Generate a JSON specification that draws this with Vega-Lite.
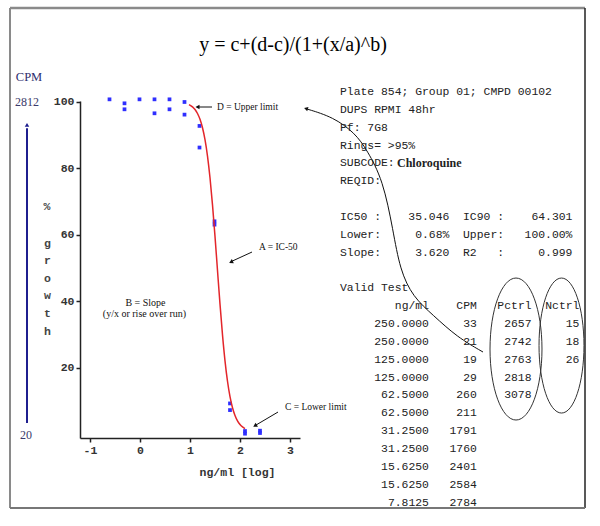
{
  "$schema": "https://vega.github.io/schema/vega-lite/v6.json",
  "width": 220,
  "height": 337,
  "autosize": "none",
  "padding": {"left": 80, "top": 101, "right": 300, "bottom": 88},
  "background": "white",
  "config": {"view": {"stroke": null}},
  "datasets": {
    "one": [{}],
    "growth": [
      {"x": -0.61, "y": 100.7}, {"x": -0.31, "y": 99.5}, {"x": -0.31, "y": 97.7},
      {"x": -0.01, "y": 100.7}, {"x": 0.29, "y": 100.7}, {"x": 0.29, "y": 96.5},
      {"x": 0.59, "y": 100.7}, {"x": 0.59, "y": 97.7}, {"x": 0.89, "y": 99.9},
      {"x": 0.89, "y": 96.1}, {"x": 1.19, "y": 92.7}, {"x": 1.19, "y": 86.2},
      {"x": 1.49, "y": 64.0}, {"x": 1.49, "y": 63.0}, {"x": 1.8, "y": 9.2},
      {"x": 1.8, "y": 7.2}, {"x": 2.1, "y": 0.9}, {"x": 2.1, "y": 0.1},
      {"x": 2.4, "y": 1.0}, {"x": 2.4, "y": 0.3}
    ],
    "fit": [
      {"x": 0.98, "y": 99.11}, {"x": 1.05, "y": 98.42}, {"x": 1.1, "y": 97.62},
      {"x": 1.15, "y": 96.43}, {"x": 1.2, "y": 94.68}, {"x": 1.25, "y": 92.15},
      {"x": 1.3, "y": 88.56}, {"x": 1.35, "y": 83.62}, {"x": 1.4, "y": 77.1},
      {"x": 1.45, "y": 68.96}, {"x": 1.5, "y": 59.47}, {"x": 1.55, "y": 49.22},
      {"x": 1.6, "y": 39.08}, {"x": 1.65, "y": 29.83}, {"x": 1.7, "y": 22.03},
      {"x": 1.75, "y": 15.87}, {"x": 1.8, "y": 11.24}, {"x": 1.85, "y": 7.9},
      {"x": 1.9, "y": 5.56}, {"x": 1.95, "y": 3.95}, {"x": 2.0, "y": 2.86},
      {"x": 2.05, "y": 2.13}, {"x": 2.1, "y": 1.64}
    ],
    "connector": [
      {"x": 3.34, "y": 97.79}, {"x": 3.86, "y": 95.39}, {"x": 4.3, "y": 90.57},
      {"x": 4.54, "y": 85.45}, {"x": 4.86, "y": 76.43}, {"x": 5.06, "y": 61.38},
      {"x": 5.2, "y": 49.34}, {"x": 5.46, "y": 41.22}, {"x": 5.86, "y": 35.8},
      {"x": 6.34, "y": 29.18}, {"x": 6.86, "y": 24.67}
    ],
    "info": [
      {"i": -12, "line": "Plate 854; Group 01; CMPD 00102"},
      {"i": -11, "line": "DUPS RPMI 48hr"},
      {"i": -10, "line": "Pf: 7G8"},
      {"i": -9, "line": "Rings= >95%"},
      {"i": -8, "line": "SUBCODE:"},
      {"i": -7, "line": "REQID:"},
      {"i": -5, "line": "IC50\u00a0:\u00a0\u00a0\u00a0\u00a035.046\u00a0\u00a0IC90\u00a0:\u00a0\u00a0\u00a0\u00a064.301"},
      {"i": -4, "line": "Lower:\u00a0\u00a0\u00a0\u00a0\u00a00.68%\u00a0\u00a0Upper:\u00a0\u00a0\u00a0100.00%"},
      {"i": -3, "line": "Slope:\u00a0\u00a0\u00a0\u00a0\u00a03.620\u00a0\u00a0R2\u00a0\u00a0\u00a0:\u00a0\u00a0\u00a0\u00a0\u00a00.999"},
      {"i": -1, "line": "Valid Test"}
    ],
    "table": [
      {"i": 1, "conc": 250, "cpm": 33, "pctrl": 2657, "nctrl": 15},
      {"i": 2, "conc": 250, "cpm": 21, "pctrl": 2742, "nctrl": 18},
      {"i": 3, "conc": 125, "cpm": 19, "pctrl": 2763, "nctrl": 26},
      {"i": 4, "conc": 125, "cpm": 29, "pctrl": 2818, "nctrl": null},
      {"i": 5, "conc": 62.5, "cpm": 260, "pctrl": 3078, "nctrl": null},
      {"i": 6, "conc": 62.5, "cpm": 211, "pctrl": null, "nctrl": null},
      {"i": 7, "conc": 31.25, "cpm": 1791, "pctrl": null, "nctrl": null},
      {"i": 8, "conc": 31.25, "cpm": 1760, "pctrl": null, "nctrl": null},
      {"i": 9, "conc": 15.625, "cpm": 2401, "pctrl": null, "nctrl": null},
      {"i": 10, "conc": 15.625, "cpm": 2584, "pctrl": null, "nctrl": null},
      {"i": 11, "conc": 7.8125, "cpm": 2784, "pctrl": null, "nctrl": null}
    ]
  },
  "layer": [
    {
      "layer": [
        {"data": {"name": "growth"},
         "mark": {"type": "point", "shape": "square", "filled": true, "size": 14, "color": "#2f2fff", "opacity": 1},
         "encoding": {
           "x": {
             "field": "x", "type": "quantitative",
             "scale": {"domain": [-1.2, 3.2], "nice": false, "zero": false},
             "axis": {
               "values": [-1, 0, 1, 2, 3], "labelExpr": "'' + datum.value", "title": "ng/ml [log]", "grid": false,
               "domainColor": "#222", "domainWidth": 1.5, "tickColor": "#222", "tickWidth": 1.5, "tickSize": 4,
               "labelFont": "Liberation Mono", "labelFontSize": 11.5, "labelFontWeight": "bold", "labelColor": "#333",
               "labelPadding": 2, "labelFlush": false,
               "titleFont": "Liberation Mono", "titleFontSize": 11.5, "titleFontWeight": "bold", "titleColor": "#333",
               "titleX": 157, "titleY": 34, "titleBaseline": "middle", "titleAlign": "center"
             }
           },
           "y": {
             "field": "y", "type": "quantitative",
             "scale": {"domain": [-1.2, 100.2], "nice": false, "zero": false},
             "axis": {
               "values": [20, 40, 60, 80, 100], "grid": false,
               "title": ["g", "r", "o", "w", "t", "h"],
               "domainColor": "#222", "domainWidth": 1.5, "tickColor": "#222", "tickWidth": 1.5, "tickSize": 4,
               "labelFont": "Liberation Mono", "labelFontSize": 11.5, "labelFontWeight": "bold", "labelColor": "#333",
               "labelPadding": 2,
               "titleFont": "Liberation Mono", "titleFontSize": 11.5, "titleFontWeight": "bold", "titleColor": "#444",
               "titleAngle": 0, "titleX": -33, "titleY": 145.2, "titleBaseline": "alphabetic", "titleAlign": "center",
               "titleLineHeight": 17.6
             }
           }
         }},
        {"data": {"name": "fit"}, "mark": {"type": "line", "color": "#e3262b", "strokeWidth": 1.5, "interpolate": "monotone"},
         "encoding": {"x": {"field": "x", "type": "quantitative"}, "y": {"field": "y", "type": "quantitative"}}},
        {"data": {"name": "connector"}, "mark": {"type": "line", "color": "#111", "strokeWidth": 1, "interpolate": "basis"},
         "encoding": {"x": {"field": "x", "type": "quantitative"}, "y": {"field": "y", "type": "quantitative"}}},
        {"data": {"name": "one"}, "mark": {"type": "text", "text": "%", "font": "Liberation Mono", "fontSize": 11.5, "fontWeight": "bold", "align": "center", "baseline": "middle", "color": "#444"},
         "encoding": {"x": {"datum": -1.86, "type": "quantitative"}, "y": {"datum": 68.3, "type": "quantitative"}}},
        {"data": {"name": "one"}, "mark": {"type": "rule", "color": "#8a8a8a", "strokeWidth": 2.5},
         "encoding": {"x": {"datum": -2.6, "type": "quantitative"}, "x2": {"datum": 8.9}, "y": {"datum": 128.19, "type": "quantitative"}}},
        {"data": {"name": "one"}, "mark": {"type": "rule", "color": "#8a8a8a", "strokeWidth": 2},
         "encoding": {"x": {"datum": -2.6, "type": "quantitative"}, "y": {"datum": 128.19, "type": "quantitative"}, "y2": {"datum": -22.28}}},
        {"data": {"name": "one"}, "mark": {"type": "rule", "color": "#222", "strokeWidth": 1.5},
         "encoding": {"x": {"datum": 8.9, "type": "quantitative"}, "y": {"datum": 128.19, "type": "quantitative"}, "y2": {"datum": -22.28}}},
        {"data": {"name": "one"}, "mark": {"type": "rule", "color": "#777", "strokeWidth": 2},
         "encoding": {"x": {"datum": -2.6, "type": "quantitative"}, "x2": {"datum": 8.9}, "y": {"datum": -22.28, "type": "quantitative"}}},
        {"data": {"name": "one"}, "mark": {"type": "text", "text": "y = c+(d-c)/(1+(x/a)^b)", "font": "Liberation Serif", "fontSize": 20, "align": "center", "baseline": "middle", "color": "#000"},
         "encoding": {"x": {"datum": 3.06, "type": "quantitative"}, "y": {"datum": 117.05, "type": "quantitative"}}},
        {"data": {"name": "one"}, "mark": {"type": "text", "text": "CPM", "font": "Liberation Serif", "fontSize": 12.5, "align": "center", "baseline": "middle", "color": "#2d2d6e"},
         "encoding": {"x": {"datum": -2.22, "type": "quantitative"}, "y": {"datum": 107.42, "type": "quantitative"}}},
        {"data": {"name": "one"}, "mark": {"type": "text", "text": "2812", "font": "Liberation Serif", "fontSize": 12, "align": "center", "baseline": "middle", "color": "#3a3a6a"},
         "encoding": {"x": {"datum": -2.26, "type": "quantitative"}, "y": {"datum": 99.9, "type": "quantitative"}}},
        {"data": {"name": "one"}, "mark": {"type": "text", "text": "20", "font": "Liberation Serif", "fontSize": 12, "align": "center", "baseline": "middle", "color": "#3a3a6a"},
         "encoding": {"x": {"datum": -2.28, "type": "quantitative"}, "y": {"datum": -0.31, "type": "quantitative"}}},
        {"data": {"name": "one"}, "mark": {"type": "rule", "color": "#1f1f8f", "strokeWidth": 2},
         "encoding": {"x": {"datum": -2.26, "type": "quantitative"}, "y": {"datum": 3.3, "type": "quantitative"}, "y2": {"datum": 92.0}}},
        {"data": {"name": "one"}, "mark": {"type": "point", "shape": "triangle-up", "filled": true, "size": 20, "color": "#1f1f8f", "opacity": 1},
         "encoding": {"x": {"datum": -2.26, "type": "quantitative"}, "y": {"datum": 93.0, "type": "quantitative"}}},
        {"data": {"name": "one"}, "mark": {"type": "rule", "color": "#111", "strokeWidth": 1},
         "encoding": {"x": {"datum": 1.44, "type": "quantitative"}, "x2": {"datum": 1.16}, "y": {"datum": 98.39, "type": "quantitative"}}},
        {"data": {"name": "one"}, "mark": {"type": "point", "shape": "triangle-left", "filled": true, "size": 22, "color": "#111", "opacity": 1},
         "encoding": {"x": {"datum": 1.15, "type": "quantitative"}, "y": {"datum": 98.39, "type": "quantitative"}}},
        {"data": {"name": "one"}, "mark": {"type": "text", "text": "D = Upper limit", "font": "Liberation Serif", "fontSize": 9.5, "align": "left", "baseline": "middle", "color": "#111"},
         "encoding": {"x": {"datum": 1.54, "type": "quantitative"}, "y": {"datum": 98.39, "type": "quantitative"}}},
        {"data": {"name": "one"}, "mark": {"type": "rule", "color": "#111", "strokeWidth": 1},
         "encoding": {"x": {"datum": 2.24, "type": "quantitative"}, "x2": {"datum": 1.84}, "y": {"datum": 54.76, "type": "quantitative"}, "y2": {"datum": 52.0}}},
        {"data": {"name": "one"}, "mark": {"type": "point", "shape": "triangle-left", "filled": true, "size": 22, "color": "#111", "opacity": 1, "angle": -25.6},
         "encoding": {"x": {"datum": 1.82, "type": "quantitative"}, "y": {"datum": 51.75, "type": "quantitative"}}},
        {"data": {"name": "one"}, "mark": {"type": "text", "text": "A = IC-50", "font": "Liberation Serif", "fontSize": 9.5, "align": "left", "baseline": "middle", "color": "#111"},
         "encoding": {"x": {"datum": 2.38, "type": "quantitative"}, "y": {"datum": 56.26, "type": "quantitative"}}},
        {"data": {"name": "one"}, "mark": {"type": "text", "text": "B = Slope", "font": "Liberation Serif", "fontSize": 10, "align": "center", "baseline": "middle", "color": "#111"},
         "encoding": {"x": {"datum": 0.11, "type": "quantitative"}, "y": {"datum": 39.41, "type": "quantitative"}}},
        {"data": {"name": "one"}, "mark": {"type": "text", "text": "(y/x or rise over run)", "font": "Liberation Serif", "fontSize": 10, "align": "center", "baseline": "middle", "color": "#111"},
         "encoding": {"x": {"datum": 0.09, "type": "quantitative"}, "y": {"datum": 36.1, "type": "quantitative"}}},
        {"data": {"name": "one"}, "mark": {"type": "rule", "color": "#111", "strokeWidth": 1},
         "encoding": {"x": {"datum": 2.76, "type": "quantitative"}, "x2": {"datum": 2.32}, "y": {"datum": 6.61, "type": "quantitative"}, "y2": {"datum": 2.7}}},
        {"data": {"name": "one"}, "mark": {"type": "point", "shape": "triangle-left", "filled": true, "size": 22, "color": "#111", "opacity": 1, "angle": -31},
         "encoding": {"x": {"datum": 2.3, "type": "quantitative"}, "y": {"datum": 2.49, "type": "quantitative"}}},
        {"data": {"name": "one"}, "mark": {"type": "text", "text": "C = Lower limit", "font": "Liberation Serif", "fontSize": 9.5, "align": "left", "baseline": "middle", "color": "#111"},
         "encoding": {"x": {"datum": 2.9, "type": "quantitative"}, "y": {"datum": 8.12, "type": "quantitative"}}},
        {"data": {"name": "one"}, "mark": {"type": "point", "shape": "triangle-left", "filled": true, "size": 20, "color": "#111", "opacity": 1, "angle": 17},
         "encoding": {"x": {"datum": 3.32, "type": "quantitative"}, "y": {"datum": 97.9, "type": "quantitative"}}},
        {"data": {"name": "one"}, "mark": {"type": "point", "shape": "M0,-1C0.2021,-1,0.366,-0.5523,0.366,0C0.366,0.5523,0.2021,1,0,1C-0.2021,1,-0.366,0.5523,-0.366,0C-0.366,-0.5523,-0.2021,-1,0,-1Z", "size": 20164, "filled": false, "color": "#333", "strokeWidth": 1, "opacity": 1},
         "encoding": {"x": {"datum": 7.52, "type": "quantitative"}, "y": {"datum": 25.57, "type": "quantitative"}}},
        {"data": {"name": "one"}, "mark": {"type": "point", "shape": "M0,-1C0.184,-1,0.333,-0.5523,0.333,0C0.333,0.5523,0.184,1,0,1C-0.184,1,-0.333,0.5523,-0.333,0C-0.333,-0.5523,-0.184,-1,0,-1Z", "size": 18225, "filled": false, "color": "#333", "strokeWidth": 1, "opacity": 1},
         "encoding": {"x": {"datum": 8.43, "type": "quantitative"}, "y": {"datum": 26.62, "type": "quantitative"}}}
      ]
    },
    {
      "layer": [
        {"data": {"name": "info"},
         "mark": {"type": "text", "align": "left", "baseline": "middle", "font": "Liberation Mono", "fontSize": 11.4, "color": "#222"},
         "encoding": {
           "x": {"datum": 4.0, "type": "quantitative"},
           "y": {"field": "i", "type": "quantitative", "axis": null, "scale": {"domain": [-11.496, 7.384], "reverse": true, "nice": false, "zero": false}},
           "text": {"field": "line", "type": "nominal"}}},
        {"data": {"name": "one"},
         "mark": {"type": "text", "text": "Chloroquine", "align": "left", "baseline": "middle", "font": "Liberation Serif", "fontWeight": "bold", "fontSize": 12, "color": "#222"},
         "encoding": {"x": {"datum": 5.14, "type": "quantitative"}, "y": {"datum": -8, "type": "quantitative", "axis": null}}},
        {"data": {"name": "one"},
         "mark": {"type": "text", "text": "ng/ml\u00a0\u00a0\u00a0\u00a0CPM\u00a0\u00a0\u00a0Pctrl\u00a0\u00a0Nctrl", "align": "right", "baseline": "middle", "font": "Liberation Mono", "fontSize": 11.4, "color": "#222"},
         "encoding": {"x": {"datum": 8.788, "type": "quantitative"}, "y": {"datum": 0, "type": "quantitative", "axis": null}}},
        {"data": {"name": "table"},
         "mark": {"type": "text", "align": "right", "baseline": "middle", "font": "Liberation Mono", "fontSize": 11.4, "color": "#222"},
         "encoding": {"x": {"datum": 5.778, "type": "quantitative"}, "y": {"field": "i", "type": "quantitative", "axis": null}, "text": {"field": "conc", "type": "quantitative", "format": ".4f"}}},
        {"data": {"name": "table"},
         "mark": {"type": "text", "align": "right", "baseline": "middle", "font": "Liberation Mono", "fontSize": 11.4, "color": "#222"},
         "encoding": {"x": {"datum": 6.736, "type": "quantitative"}, "y": {"field": "i", "type": "quantitative", "axis": null}, "text": {"field": "cpm", "type": "nominal"}}},
        {"data": {"name": "table"},
         "transform": [{"filter": "datum.pctrl != null"}],
         "mark": {"type": "text", "align": "right", "baseline": "middle", "font": "Liberation Mono", "fontSize": 11.4, "color": "#222"},
         "encoding": {"x": {"datum": 7.83, "type": "quantitative"}, "y": {"field": "i", "type": "quantitative", "axis": null}, "text": {"field": "pctrl", "type": "nominal"}}},
        {"data": {"name": "table"},
         "transform": [{"filter": "datum.nctrl != null"}],
         "mark": {"type": "text", "align": "right", "baseline": "middle", "font": "Liberation Mono", "fontSize": 11.4, "color": "#222"},
         "encoding": {"x": {"datum": 8.788, "type": "quantitative"}, "y": {"field": "i", "type": "quantitative", "axis": null}, "text": {"field": "nctrl", "type": "nominal"}}}
      ]
    }
  ],
  "resolve": {"scale": {"y": "independent"}}
}
